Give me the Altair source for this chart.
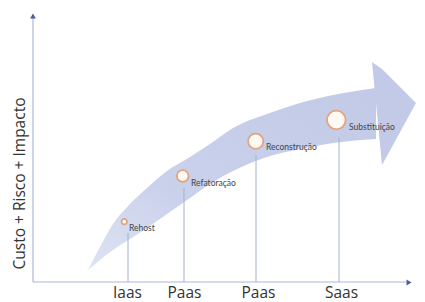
import altair as alt
import pandas as pd

# ---- data (in the chart's own x / y units) ----
band_x = [88, 100, 113, 130, 147, 167, 190, 210, 233, 267, 300, 333, 376]
band_upper = [270, 247, 224, 204, 188, 171, 157, 144, 128, 114, 103, 95, 88]
band_lower = [270, 260, 250, 239, 228, 214, 198, 184, 171, 157, 149, 143, 139]

head_x = [372, 382, 416]
head_upper = [62, 69, 103]
head_lower = [62, 165, 103]

steps = ["Rehost", "Refatoração", "Reconstrução", "Substituição"]
step_x = [124.3, 182.7, 255.7, 336.3]
step_y = [221.7, 176, 141.3, 120]
step_size = [30, 135, 230, 345]
label_x = [129, 191, 266, 349]
label_y = [228, 183, 147, 127]

stem_x = [128, 184, 256, 339]
stem_top = [233, 188, 155, 137]

tick_pos = [127, 184, 258, 341]
tick_labels = ["Iaas", "Paas", "Paas", "Saas"]

x0, x1 = 33, 417
y_bottom, y_top = 282, 15

FONT = "Lato"
AXIS_FONT = "Open Sans"
AXIS_COL = "#adb8d8"
ARROW_COL = "#4d5d9c"

label_expr = " : ".join(
    f"datum.value == {p} ? '{t}'" for p, t in zip(tick_pos, tick_labels)
) + " : ''"

xs = alt.Scale(domain=[x0, x1], nice=False, zero=False)
ys = alt.Scale(domain=[y_bottom, y_top], nice=False, zero=False)

x_axis = alt.Axis(
    values=tick_pos, labelExpr=label_expr, title=None, grid=False,
    domain=False, ticks=False, tickSize=0, labelPadding=15,
    labelBaseline="alphabetic", labelFont=AXIS_FONT, labelFontSize=15.5,
    labelColor="#333333", labelFlush=False, labelOverlap=False,
)
y_axis = alt.Axis(
    title="Custo + Risco + Impacto", labels=False, ticks=False, domain=False,
    grid=False, titleFont=AXIS_FONT, titleFontSize=15.5, titleFontWeight="normal",
    titleColor="#333333", titleAngle=270, titleBaseline="alphabetic",
    titleAlign="center", titleX=-9, titleY=168,
)


def X(field):
    return alt.X(field, type="quantitative", scale=xs, axis=x_axis)


def Y(field):
    return alt.Y(field, type="quantitative", scale=ys, axis=y_axis)


band_df = pd.DataFrame({"x": band_x, "upper": band_upper, "lower": band_lower})
head_df = pd.DataFrame({"x": head_x, "upper": head_upper, "lower": head_lower})
steps_df = pd.DataFrame({"step": steps, "x": step_x, "y": step_y,
                         "size": step_size, "lx": label_x, "ly": label_y})
stems_df = pd.DataFrame({"x": stem_x, "top": stem_top, "bottom": [y_bottom] * 4})
yaxis_df = pd.DataFrame({"x": [x0], "y1": [y_bottom], "y2": [18]})
xaxis_df = pd.DataFrame({"y": [y_bottom], "x1": [x0], "x2": [406]})
arrows_df = pd.DataFrame({"x": [x0, 409], "y": [16, y_bottom + 0.5],
                          "shape": ["triangle-up", "triangle-right"]})

gradient = alt.LinearGradient(
    gradient="linear",
    stops=[
        alt.GradientStop(color="#dfe4f3", offset=0),
        alt.GradientStop(color="#cad1eb", offset=0.35),
        alt.GradientStop(color="#c2cae7", offset=1),
    ],
    x1=0, x2=1, y1=1, y2=0,
)

band = alt.Chart(band_df).mark_area(
    color=gradient, interpolate="monotone", opacity=1
).encode(x=X("x"), y=Y("upper"), y2="lower")

head = alt.Chart(head_df).mark_area(
    color="#c2cae7", interpolate="linear", opacity=1
).encode(x=X("x"), y=Y("upper"), y2="lower")

yaxis_line = alt.Chart(yaxis_df).mark_rule(color=AXIS_COL, strokeWidth=1.2).encode(
    x=X("x"), y=Y("y1"), y2="y2")
xaxis_line = alt.Chart(xaxis_df).mark_rule(color=AXIS_COL, strokeWidth=1.2).encode(
    x=X("x1"), x2="x2", y=Y("y"))

arrows = alt.Chart(arrows_df).mark_point(
    filled=True, color=ARROW_COL, size=34, opacity=1
).encode(x=X("x"), y=Y("y"), shape=alt.Shape("shape:N", scale=None, legend=None))

stems = alt.Chart(stems_df).mark_rule(color="#a3b2ca", strokeWidth=1).encode(
    x=X("x"), y=Y("top"), y2="bottom")

bubbles = alt.Chart(steps_df).mark_point(
    filled=False, fill="#fffaf3", fillOpacity=1, stroke="#e2a47e",
    strokeWidth=1.8, opacity=1, shape="circle"
).encode(x=X("x"), y=Y("y"), size=alt.Size("size:Q", scale=None, legend=None))

labels = alt.Chart(steps_df).mark_text(
    align="left", baseline="middle", font=FONT, fontSize=8.5, color="#444444"
).encode(x=X("lx"), y=Y("ly"), text="step:N")

chart = alt.layer(
    band, head, yaxis_line, xaxis_line, arrows, stems, bubbles, labels
).properties(
    width=x1 - x0, height=y_bottom - y_top, autosize="none",
    padding={"left": 25, "top": 7, "right": 0, "bottom": 20},
    background="white",
).configure_view(stroke=None)

chart.save("out.html", embed_options={"renderer": "svg", "actions": False})
